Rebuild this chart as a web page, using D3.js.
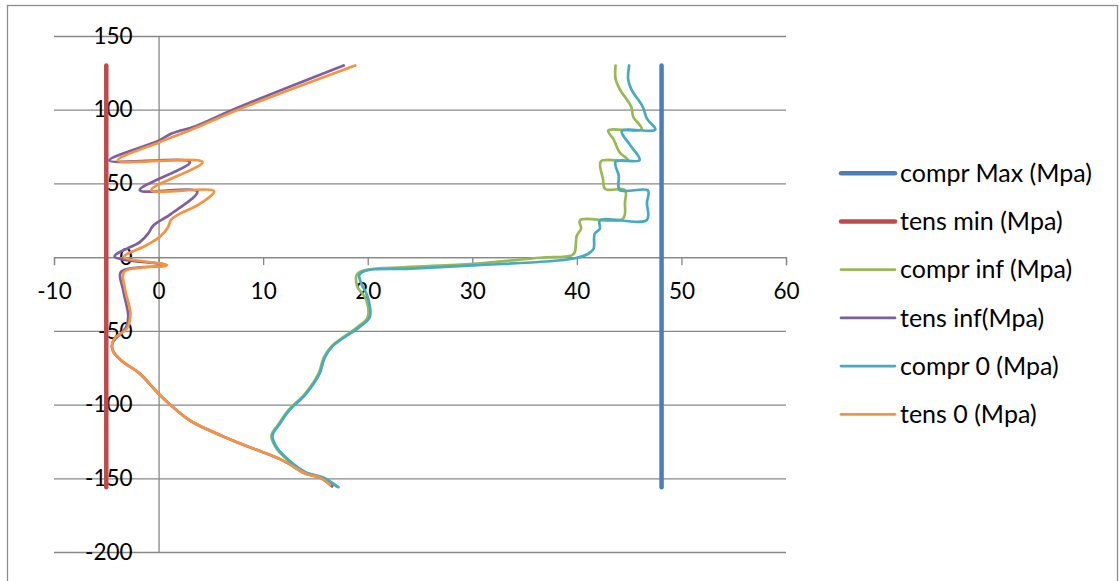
<!DOCTYPE html>
<html>
<head>
<meta charset="utf-8">
<script src="https://cdn.jsdelivr.net/npm/d3@7"></script>
<style>
  body { margin: 0; background: #fff; }
  svg { display: block; font-family: Lato, "Open Sans", sans-serif; }
</style>
</head>
<body>
<svg></svg>
<script>
// series: [stress (Mpa), depth]
var comprMax = [[48.1, 130], [48.1, -156]];
var tensMin = [[-5, 130], [-5, -156]];

var comprInf = [[43.7, 130], [43.7, 121], [44.1, 114], [45.2, 102], [45.4, 95], [46.2, 86.8], [43.0, 85.8],
    [43.5, 80], [44.1, 71], [44.9, 65.6], [42.3, 65], [42.5, 53], [42.7, 46.2], [44.6, 45.5], [44.6, 37],
    [44.4, 26], [40.3, 25], [40.4, 19.3], [40.0, 14.7], [39.8, 3.4], [39.5, 1.2], [36.5, -0.4], [30.1, -4.5],
    [23.7, -6.8], [19.9, -8.6], [19.0, -11.5], [19.0, -20], [19.8, -28], [20.0, -40.7], [19.0, -47.5],
    [16.6, -60], [15.8, -68], [15.3, -79], [14.0, -92.7], [12.4, -104], [11.5, -113], [10.8, -121],
    [11.2, -129], [12.4, -138], [14.0, -146], [15.6, -149.5], [17.0, -155.5]];

var tensInf = [[17.7, 130], [7.1, 100], [3.6, 89], [1.3, 84], [0, 79], [-4.7, 65.5], [3.0, 64.5],
    [-1.8, 45.5], [3.7, 44.5], [1.2, 29.4], [-0.5, 21.5], [-1.0, 16], [-1.8, 10.2], [-4.2, 0.5], [0.6, -5.5],
    [-3.6, -10], [-3.4, -22], [-2.9, -40], [-3.1, -47.5], [-4.4, -58], [-4.4, -63], [-3.6, -70], [-1.8, -79],
    [0, -92.7], [1.2, -100.6], [3.0, -110.8], [7.1, -124.4], [11.9, -138], [14.1, -147], [15.4, -149.4],
    [16.6, -155.5]];

var compr0 = [[45.0, 130], [44.9, 121], [45.2, 114], [46.3, 102], [46.7, 94], [47.5, 86.5], [44.3, 85.5],
    [45.1, 76], [46.0, 65.8], [43.7, 64.8], [44.0, 55.4], [44.1, 45.6], [46.8, 45.2], [46.7, 37], [46.7, 25.2],
    [42.2, 24.9], [42.2, 19.3], [41.7, 15.9], [41.6, 5.7], [41.1, 2.3], [39.6, -1.1], [30.1, -5.6], [23.7, -7.9],
    [19.9, -9], [19.2, -12], [19.4, -18], [20.0, -27], [20.2, -40.7], [19.2, -47.5], [16.7, -60], [15.9, -68],
    [15.4, -79], [14.1, -92.7], [12.5, -104], [11.6, -113], [10.9, -121], [11.3, -129], [12.5, -138],
    [14.1, -146], [15.7, -149.3], [17.2, -156]];

var tens0 = [[18.8, 130], [7.6, 100], [3.0, 86], [0.1, 78], [-3.9, 65.5], [4.2, 64.5], [-0.7, 45.5],
    [5.3, 44.8], [3.9, 36], [2.0, 29.4], [1.2, 25.4], [0.9, 20.3], [0.1, 13.6], [-1.2, 7.9], [-3.3, 0.2],
    [0.8, -5.5], [-3.3, -10], [-3.2, -22], [-2.7, -38], [-3.0, -48], [-4.3, -56], [-4.4, -63], [-3.6, -70],
    [-1.8, -79], [0, -92.7], [1.2, -100.6], [3.0, -110.8], [7.1, -124.4], [11.9, -138], [14.1, -147],
    [15.4, -149.4], [16.4, -154.5]];

var seriesNames = ["compr Max (Mpa)", "tens min (Mpa)", "compr inf (Mpa)", "tens inf(Mpa)", "compr 0 (Mpa)", "tens 0 (Mpa)"];
var seriesData = [comprMax, tensMin, comprInf, tensInf, compr0, tens0];
var seriesColors = ["#4A7EBB", "#BE4B48", "#98B954", "#7D60A0", "#46AAC5", "#F69240"];
var seriesWidths = [4.5, 4.5, 2.7, 2.7, 2.7, 2.7];

var xTicks = [-10, 0, 10, 20, 30, 40, 50, 60];
var yTicks = [-200, -150, -100, -50, 0, 50, 100, 150];

var svgWidth = 1120,
    svgHeight = 581;
var plotLeft = 54,
    plotRight = 786,
    plotTop = 36,
    plotBottom = 552;

var svg = d3.select("svg")
    .attr("width", svgWidth)
    .attr("height", svgHeight);

// chart frame
svg.append("rect")
    .attr("x", 7.5)
    .attr("y", 5.5)
    .attr("width", 1110)
    .attr("height", 600)
    .attr("fill", "none")
    .attr("stroke", "#8c8c8c")
    .attr("stroke-width", 1.3);

var x = d3.scaleLinear().domain([-10, 60]).range([plotLeft, plotRight]);
var y = d3.scaleLinear().domain([-200, 150]).range([plotBottom, plotTop]);

var gridColor = "#878787";
// excel writes a plain hyphen for negatives
var fmt = d => String(d);

// horizontal gridlines
var grid = svg.append("g")
    .attr("transform", "translate(" + plotLeft + ",0)")
    .call(d3.axisLeft(y).tickValues(yTicks).tickSize(-(plotRight - plotLeft)).tickFormat(""));
grid.select(".domain").remove();
grid.selectAll("line").attr("stroke", gridColor).attr("stroke-width", 1.3);

// y axis at x = 0
var yAxis = svg.append("g")
    .attr("transform", "translate(" + x(0) + ",0)")
    .call(d3.axisLeft(y).tickValues(yTicks).tickFormat(fmt).tickSize(0).tickSizeOuter(0).tickPadding(26));
yAxis.select(".domain").attr("stroke", gridColor).attr("stroke-width", 1.3);

// x axis at y = 0
var xAxis = svg.append("g")
    .attr("transform", "translate(0," + y(0) + ")")
    .call(d3.axisBottom(x).tickValues(xTicks).tickFormat(fmt).tickSize(8).tickSizeOuter(8).tickPadding(18));
xAxis.select(".domain").attr("stroke", gridColor).attr("stroke-width", 1.3);
xAxis.selectAll("line").attr("stroke", gridColor).attr("stroke-width", 1.3);

svg.selectAll(".tick text")
    .attr("font-family", "Lato, sans-serif")
    .attr("font-size", "22.5px")
    .attr("fill", "#000");

var line = d3.line()
    .x(d => x(d[0]))
    .y(d => y(d[1]))
    .curve(d3.curveCatmullRom.alpha(0.5));

seriesData.forEach((data, i) => {
    svg.append("path")
        .datum(data)
        .attr("d", line)
        .attr("fill", "none")
        .attr("stroke", seriesColors[i])
        .attr("stroke-width", seriesWidths[i])
        .attr("stroke-linecap", "round")
        .attr("stroke-linejoin", "round");
});

// legend
var legendX = 841,
    legendY = 173.3,
    legendStep = 48.2;

var legend = svg.append("g");
seriesNames.forEach((name, i) => {
    legend.append("line")
        .attr("x1", legendX)
        .attr("x2", legendX + 54)
        .attr("y1", legendY + i * legendStep)
        .attr("y2", legendY + i * legendStep)
        .attr("stroke", seriesColors[i])
        .attr("stroke-width", seriesWidths[i])
        .attr("stroke-linecap", "round");

    legend.append("text")
        .attr("x", legendX + 59)
        .attr("y", legendY + i * legendStep)
        .attr("dy", "0.35em")
        .attr("font-size", "25px")
        .attr("fill", "#000")
        .text(name);
});
</script>
</body>
</html>
